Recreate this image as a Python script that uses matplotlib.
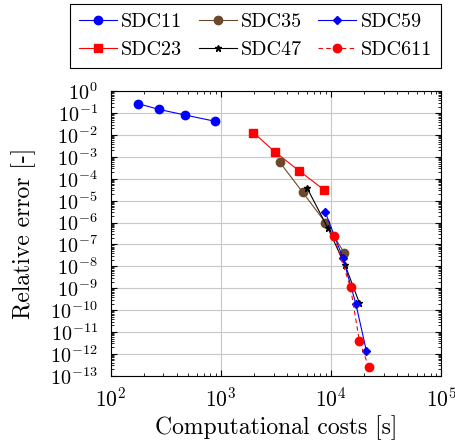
import matplotlib
matplotlib.use('Agg')
from matplotlib import pyplot as plt
from matplotlib.ticker import LogLocator, NullFormatter

plt.rcParams['font.family'] = 'cmr10'
plt.rcParams['mathtext.fontset'] = 'cm'
plt.rcParams['axes.formatter.use_mathtext'] = True

# cost [s] and relative error for each SDC variant
sdc11_cost = [178, 272, 469, 878]
sdc11_err = [0.27, 0.15, 0.083, 0.043]

sdc23_cost = [1970, 3070, 5140, 8590]
sdc23_err = [1.3e-2, 1.75e-3, 2.3e-4, 3.2e-5]

sdc35_cost = [3430, 5530, 8890, 13200]
sdc35_err = [5.6e-4, 2.4e-5, 1.0e-6, 4.0e-8]

sdc47_cost = [6070, 9330, 13430, 18070]
sdc47_err = [3.7e-5, 5.7e-7, 1.1e-8, 2.1e-10]

sdc59_cost = [8830, 12760, 16750, 20950]
sdc59_err = [3.1e-6, 2.5e-8, 2.0e-10, 1.3e-12]

sdc611_cost = [10570, 15000, 18070, 21980]
sdc611_err = [2.4e-7, 1.1e-9, 3.8e-12, 2.5e-13]

fig = plt.figure(figsize=(4.56, 4.48), dpi=100)
ax = fig.add_axes([0.2430, 0.1612, 0.7247, 0.6350])

ax.plot(sdc11_cost, sdc11_err, color='blue', marker='o', ms=6, lw=0.8, label='SDC11')
ax.plot(sdc23_cost, sdc23_err, color='red', marker='s', ms=6, lw=0.8, label='SDC23')
ax.plot(sdc35_cost, sdc35_err, color='#6b4a2b', marker='o', ms=6, lw=0.8, label='SDC35')
ax.plot(sdc47_cost, sdc47_err, color='black', marker='*', ms=5, lw=0.8, label='SDC47')
ax.plot(sdc59_cost, sdc59_err, color='blue', marker='D', ms=4, lw=0.8, label='SDC59')
ax.plot(sdc611_cost, sdc611_err, color='red', marker='o', ms=6, lw=0.8, ls=(0, (4, 3)), label='SDC611')

ax.set_xscale('log')
ax.set_yscale('log')
ax.set_xlim(1e2, 1e5)
ax.set_ylim(1e-13, 1e0)
ax.yaxis.set_major_locator(LogLocator(base=10, numticks=20))
ax.yaxis.set_minor_locator(LogLocator(base=10, subs=range(2, 10), numticks=20))
ax.yaxis.set_minor_formatter(NullFormatter())
ax.grid(True, which='major', color='#c8c8c8', lw=0.8)
ax.set_axisbelow(True)
ax.tick_params(which='both', direction='in', top=True, right=True)
ax.tick_params(axis='x', which='major', pad=8, labelsize=15.5)
ax.tick_params(axis='y', which='major', pad=9.5, labelsize=14.5)
ax.tick_params(which='major', length=4)
ax.tick_params(which='minor', length=2.5)
for s in ax.spines.values():
    s.set_linewidth(0.8)

ax.set_xlabel('Computational costs [s]', fontsize=17, labelpad=3)
ax.set_ylabel('Relative error [-]', fontsize=17, labelpad=10)

leg = fig.legend(loc='upper center', bbox_to_anchor=(0.560, 0.991), ncol=3, fontsize=14.5,
                 fancybox=False, edgecolor='black', framealpha=1, handlelength=1.9,
                 columnspacing=0.8, handletextpad=0.2, borderpad=0.45, labelspacing=0.5,
                 borderaxespad=0)
leg.get_frame().set_linewidth(0.8)

fig.savefig('out.png', dpi=100)
